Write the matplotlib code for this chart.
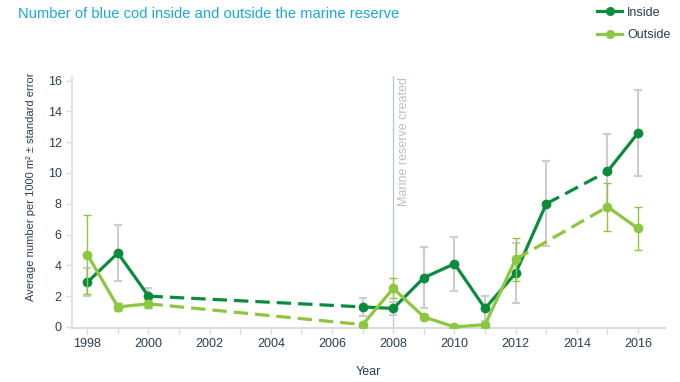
import matplotlib
matplotlib.use("Agg")
import matplotlib.pyplot as plt
from matplotlib.lines import Line2D
import numpy as np

plt.rcParams['font.family'] = ['Liberation Sans', 'DejaVu Sans']

title = "Number of blue cod inside and outside the marine reserve"
inside_years = [1998, 1999, 2000, 2007, 2008, 2009, 2010, 2011, 2012, 2013, 2015, 2016]
inside_vals = [2.9, 4.8, 2.0, 1.3, 1.2, 3.2, 4.1, 1.2, 3.5, 8.0, 10.1, 12.6]
inside_err = [0.9, 1.8, 0.5, 0.6, 0.4, 2.0, 1.75, 0.8, 1.95, 2.75, 2.4, 2.8]

outside_years = [1998, 1999, 2000, 2007, 2008, 2009, 2010, 2011, 2012, 2015, 2016]
outside_vals = [4.7, 1.3, 1.5, 0.15, 2.5, 0.65, 0.0, 0.15, 4.4, 7.8, 6.4]
outside_err = [2.55, 0.25, 0.25, 0.1, 0.65, 0.2, 0.0, 0.1, 1.4, 1.55, 1.4]

xticks = list(range(1998, 2017, 2))
yticks = list(range(0, 17, 2))
reserve_year = 2008

c_in = '#0a8c3c'
c_out = '#8dc63f'
c_txt = '#2b3f4f'

fig = plt.figure(figsize=(6.8, 3.82), dpi=100)
ax = fig.add_axes([72/680, 1-328/382, (665-72)/680, (328-76)/382])
ax.set_xlim(1997.5, 2016.88)
ax.set_ylim(-0.07, 16.3)

def draw(years, vals, errs, color, ecolor, elw, z):
    years = np.array(years); vals = np.array(vals)
    ax.errorbar(years, vals, yerr=errs, fmt='none', ecolor=ecolor, elinewidth=elw,
                capsize=3, capthick=elw, zorder=z)
    breaks = np.where(np.diff(years) > 1)[0]
    starts = [0] + list(breaks + 1)
    ends = list(breaks + 1) + [len(years)]
    for s, e in zip(starts, ends):
        ax.plot(years[s:e], vals[s:e], color=color, lw=2.3, marker='o', ms=6,
                solid_capstyle='round', zorder=z + 1)
    for b in breaks:
        ax.plot(years[b:b+2], vals[b:b+2], color=color, lw=2.3, ls=(0, (4.5, 2.2)),
                zorder=z + 1)

ax.axvline(reserve_year, color='#b9c6c6', lw=0.9, zorder=1, ymax=1.0)
ax.text(reserve_year + 0.14, 16.25, "Marine reserve created", rotation=90, ha='left', va='top',
        color='#b4c2c3', fontsize=9)

draw(inside_years, inside_vals, inside_err, c_in, '#cdcdcd', 1.5, 3)
draw(outside_years, outside_vals, outside_err, c_out, c_out, 1.0, 5)

ax.set_xticks(xticks)
ax.set_xticks(range(1998, 2017), minor=True)
ax.set_yticks(yticks)
ax.tick_params(axis='both', colors='#dddddd', labelcolor=c_txt, labelsize=9, length=4, width=1)
ax.tick_params(axis='x', which='minor', colors='#dddddd', length=4, width=1)
ax.tick_params(axis='x', pad=3)
for s in ['top', 'right']:
    ax.spines[s].set_visible(False)
ax.spines['left'].set_color('#e3e3e3')
ax.spines['bottom'].set_color('#dcdcdc')
ax.spines['left'].set_linewidth(1.5)
ax.spines['bottom'].set_linewidth(1.5)

ax.set_xlabel("Year", color=c_txt, fontsize=9, labelpad=12)
ax.set_ylabel("Average number per 1000 m² ± standard error", color=c_txt, fontsize=8)
ax.yaxis.set_label_coords(-0.061, 0.56)

fig.text(18/680, 1-14/382, title, color='#1aa7dc', fontsize=10.6, ha='left', va='center')

handles = [Line2D([], [], color=c_in, lw=2.3, marker='o', ms=5.5),
           Line2D([], [], color=c_out, lw=2.3, marker='o', ms=5.5)]
fig.legend(handles, ['Inside', 'Outside'], loc='upper left', bbox_to_anchor=(586/680, 1.012),
           frameon=False, fontsize=9, labelcolor=c_txt, handlelength=2.0, handletextpad=0.4,
           labelspacing=0.85)

fig.savefig('out.png', dpi=100)
